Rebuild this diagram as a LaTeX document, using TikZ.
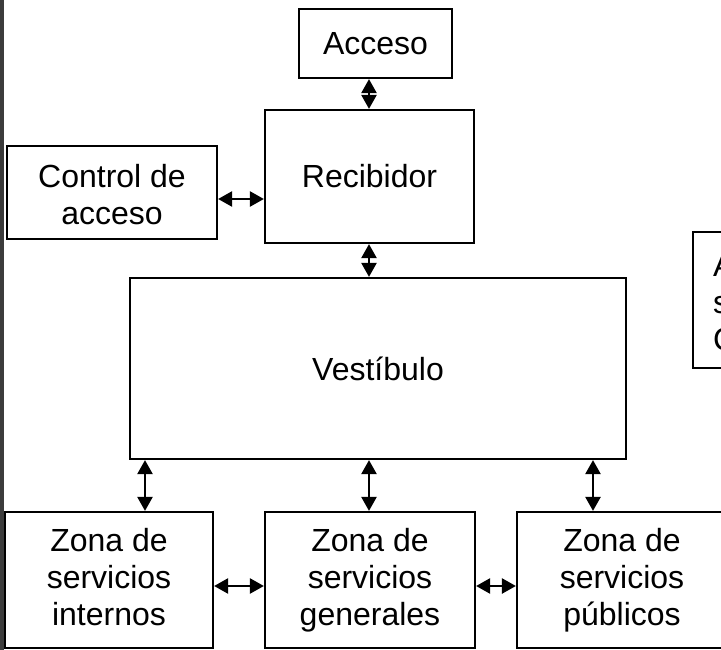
\documentclass[tikz,border=0pt]{standalone}
\usepackage{fontspec}
\setmainfont{Liberation Sans}
\usepackage{xcolor}
\usepackage{tikz}
\usetikzlibrary{shapes,arrows.meta,positioning,calc}

\definecolor{stripgray}{RGB}{60,60,60}

\tikzset{
    zone/.style={
        draw,
        line width=2.2pt,
        align=center,
        inner sep=0pt,
        font=\fontsize{32}{37}\selectfont
    },
    link/.style={
        line width=2.4pt,
        {Triangle[length=14pt,width=15pt]}-{Triangle[length=14pt,width=15pt]}
    }
}

\begin{document}
\begin{tikzpicture}[x=1pt, y=-1pt]
                \useasboundingbox (0,0) rectangle (721,650);
                \clip (0,0) rectangle (721,650);
                \fill[white] (0,0) rectangle (721,650);
                \fill[stripgray] (0,0) rectangle (4,650);

                % boxes
                \node[zone, minimum width=153, minimum height=69] (acc) at (375.5,43.5) {Acceso};
                \node[zone, minimum width=209, minimum height=133] (rec) at (369.5,176.5) {Recibidor};
                \node[zone, minimum width=210, minimum height=93] (ctrl) at (112,192.5) {\vphantom{\'A}Control de\\acceso};
                \node[zone, minimum width=496, minimum height=181] (vest) at (378,368.5) {Vest\'ibulo};
                \node[zone, minimum width=208, minimum height=136] (int) at (109,580) {Zona de\\servicios\\internos\vphantom{p}};
                \node[zone, minimum width=210, minimum height=136] (gen) at (370,580) {Zona de\\servicios\\generales};
                \node[zone, minimum width=210, minimum height=136] (pub) at (622,580) {Zona de\\servicios\\p\'ublicos};
                \node[zone, minimum width=200, minimum height=136, text width=160, align=left, inner xsep=20pt, anchor=west] (area) at (692,300) {\'A\\s\\C};

                % links
                \draw[link] (acc.south -| 369,0) -- (rec.north -| 369,0);
                \draw[link] (ctrl.east |- 0,199) -- (rec.west |- 0,199);
                \draw[link] (rec.south -| 369,0) -- (vest.north -| 369,0);
                \draw[link] (vest.south -| 145,0) -- (int.north -| 145,0);
                \draw[link] (vest.south -| 369,0) -- (gen.north -| 369,0);
                \draw[link] (vest.south -| 593,0) -- (pub.north -| 593,0);
                \draw[link] (int.east |- 0,586) -- (gen.west |- 0,586);
                \draw[link] (gen.east |- 0,586) -- (pub.west |- 0,586);

\end{tikzpicture}
\end{document}
